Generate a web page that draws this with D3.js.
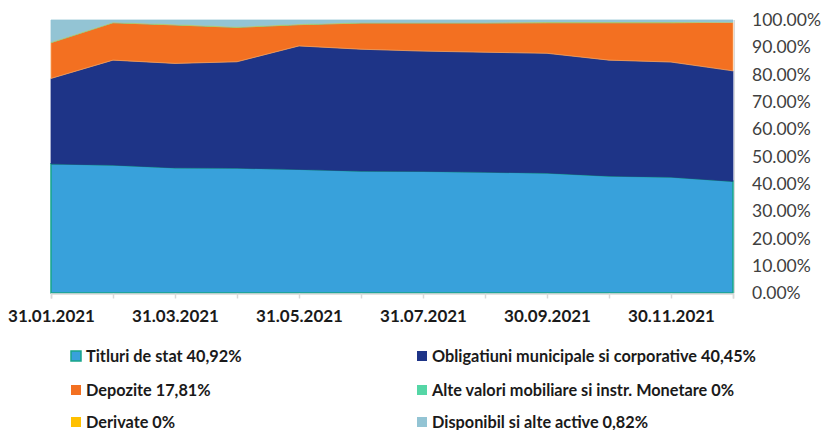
<!DOCTYPE html>
<html>
<head>
<meta charset="utf-8">
<script src="https://cdn.jsdelivr.net/npm/d3@7"></script>
<style>
  body { margin: 0; background: #fff; }
  svg text { font-family: Lato, "Liberation Sans", sans-serif; }
</style>
</head>
<body>
<div id="chart"></div>
<script>
// luni (sfarsit de luna)
var dates = ["31.01.2021", "28.02.2021", "31.03.2021", "30.04.2021", "31.05.2021", "30.06.2021",
             "31.07.2021", "31.08.2021", "30.09.2021", "31.10.2021", "30.11.2021", "31.12.2021"];
var titluri  = [47.3, 46.9, 45.9, 45.8, 45.3, 44.7, 44.6, 44.3, 44.0, 42.9, 42.5, 40.92];
var obligatiuni = [31.3, 38.4, 38.2, 38.9, 45.2, 44.6, 44.0, 43.9, 43.8, 42.4, 42.1, 40.45];
var depozite = [13.1, 13.7, 14.1, 12.6, 7.8, 9.6, 10.3, 10.7, 11.2, 13.7, 14.4, 17.81];
var alteValori = [0.2, 0.2, 0.2, 0.2, 0.2, 0.2, 0.2, 0.2, 0.3, 0.3, 0.3, 0];
var derivate = [0, 0, 0, 0, 0, 0, 0, 0, 0, 0, 0, 0];
var disponibil = [8.1, 0.8, 1.6, 2.5, 1.5, 0.9, 0.9, 0.9, 0.7, 0.7, 0.7, 0.82];
var yTicks = [0, 10, 20, 30, 40, 50, 60, 70, 80, 90, 100];

var seriesInfo = [
  {key: "titluri", label: "Titluri de stat 40,92%", fill: "#38a1db", stroke: "#17a589", values: titluri},
  {key: "oblig", label: "Obligatiuni municipale si corporative 40,45%", fill: "#1e3487", stroke: "#1e3487", values: obligatiuni},
  {key: "depoz", label: "Depozite 17,81%", fill: "#f37021", stroke: "#f7a25a", values: depozite},
  {key: "alte", label: "Alte valori mobiliare si instr. Monetare 0%", fill: "#55d6a6", stroke: "#55d6a6", values: alteValori},
  {key: "deriv", label: "Derivate 0%", fill: "#ffc000", stroke: "#ffc000", values: derivate},
  {key: "disp", label: "Disponibil si alte active 0,82%", fill: "#93c4d4", stroke: "#93c4d4", values: disponibil}
];

var width = 821, height = 430;
var svg = d3.select("#chart").append("svg")
  .attr("width", width).attr("height", height);

var x = d3.scalePoint().domain(dates).range([51, 733]);
var y = d3.scaleLinear().domain([0, 100]).range([293, 20]);

// tabel pentru stack
var table = dates.map(function (d, i) {
  var row = {date: d};
  seriesInfo.forEach(function (s) { row[s.key] = s.values[i]; });
  return row;
});
var stack = d3.stack().keys(seriesInfo.map(function (s) { return s.key; }));
var layers = stack(table);

var area = d3.area()
  .x(function (d) { return x(d.data.date); })
  .y0(function (d) { return y(d[0]); })
  .y1(function (d) { return y(d[1]); });

svg.append("g").selectAll("path")
  .data(layers)
  .enter()
  .append("path")
  .attr("d", area)
  .attr("fill", function (d, i) { return seriesInfo[i].fill; })
  .attr("stroke", function (d, i) { return seriesInfo[i].stroke; })
  .attr("stroke-width", function (d, i) { return i == 0 ? 1.5 : 0.8; });

// linia din dreapta
svg.append("line")
  .attr("x1", 734.5).attr("x2", 734.5).attr("y1", y(100)).attr("y2", y(0))
  .attr("stroke", "#d9d9d9").attr("stroke-width", 1);

// axa x
var xAxis = svg.append("g")
  .attr("transform", "translate(0," + (y(0) + 0.5) + ")")
  .call(d3.axisBottom(x).tickSize(5).tickFormat(function (d, i) { return i % 2 == 0 ? d : ""; }));
xAxis.select(".domain").attr("stroke", "#d9d9d9").attr("stroke-width", 1.5);
xAxis.selectAll(".tick line").attr("stroke", "#d9d9d9").attr("stroke-width", 1.5);
xAxis.selectAll(".tick text")
  .attr("y", 16)
  .attr("fill", "#1a1a1a")
  .style("font-size", "17px")
  .style("font-weight", "bold");

// axa y (dreapta)
var yAxis = svg.append("g")
  .attr("transform", "translate(752,0)")
  .call(d3.axisRight(y).tickValues(yTicks).tickSize(0).tickFormat(function (d) { return d.toFixed(2) + "%"; }));
yAxis.select(".domain").remove();
yAxis.selectAll(".tick text")
  .attr("x", 0)
  .attr("fill", "#404040")
  .style("font-size", "17.5px");

// legenda
var legendPos = [[71, 356], [417, 356], [71, 390], [417, 390], [71, 422], [417, 422]];
var legend = svg.append("g").selectAll("g")
  .data(seriesInfo)
  .enter()
  .append("g")
  .attr("transform", function (d, i) { return "translate(" + legendPos[i][0] + "," + legendPos[i][1] + ")"; });
legend.append("rect")
  .attr("x", 0).attr("y", -5).attr("width", 10).attr("height", 10)
  .attr("fill", function (d) { return d.fill; })
  .attr("stroke", function (d, i) { return i == 0 ? d.stroke : "none"; })
  .attr("stroke-width", 1.5);
legend.append("text")
  .attr("x", 15).attr("y", 0)
  .attr("dy", "0.35em")
  .attr("fill", "#1a1a1a")
  .style("font-size", "16.3px")
  .style("font-weight", "bold")
  .text(function (d) { return d.label; });
</script>
</body>
</html>
